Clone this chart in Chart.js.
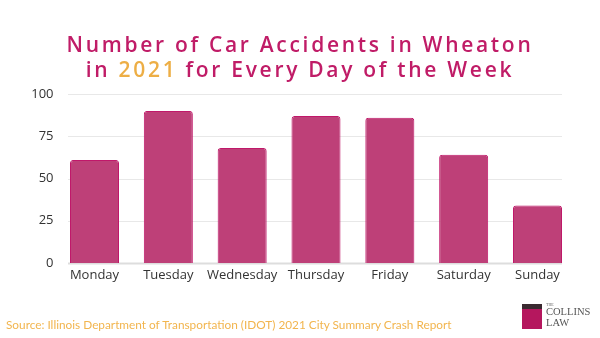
<!DOCTYPE html>
<html>
<head>
<meta charset="utf-8">
<script src="https://cdn.jsdelivr.net/npm/chart.js@4.4.0/dist/chart.umd.min.js"></script>
<style>
  html, body { margin: 0; padding: 0; background: #fff; }
  #wrap { position: relative; width: 600px; height: 338px; overflow: hidden; }
  #chart { position: absolute; left: 0; top: 0; }
  #title {
    position: absolute; left: 0; top: 32px; width: 600px;
    text-align: center; font-family: "Open Sans", sans-serif; font-weight: 600;
    font-size: 21px; line-height: 25px; letter-spacing: 2.7px; color: #C01C67;
  }
  #title .yr { color: #EDAE45; }
  #source {
    position: absolute; left: 6px; top: 317px;
    font-family: "Lato", sans-serif; font-size: 11.8px; color: #F2B54E;
  }
  #logo { position: absolute; left: 522px; top: 304px; width: 72px; height: 26px; }
  #logo .mark { position: absolute; left: 0; top: 0; width: 20px; height: 25px;
    background: linear-gradient(#3a2a30 0 20%, #B5175E 20% 100%); }
  #logo .t1 { position: absolute; left: 24px; top: -2px; font: 4px "Liberation Serif", serif; color: #666; }
  #logo .t2 { position: absolute; left: 24px; top: 2px; font: 10.5px "Liberation Serif", serif; color: #555; }
  #logo .t3 { position: absolute; left: 24px; top: 13px; font: 10.5px "Liberation Serif", serif; color: #555; }
</style>
</head>
<body>
<div id="wrap">
  <canvas id="chart" width="600" height="338"></canvas>
  <div id="title">Number of Car Accidents in Wheaton<br>in <span class="yr">2021</span> for Every Day of the Week</div>
  <div id="source">Source: Illinois Department of Transportation (IDOT) 2021 City Summary Crash Report</div>
  <div id="logo"><div class="mark"></div><div class="t1">THE</div><div class="t2">COLLINS</div><div class="t3">LAW</div></div>
</div>
<script>
  // Data
  const days = ["Monday", "Tuesday", "Wednesday", "Thursday", "Friday", "Saturday", "Sunday"];
  const accidents = [61, 90, 68, 87, 86, 64, 34];
  const yTicks = [0, 25, 50, 75, 100];

  const barColor = "#BE4078";
  const barEdge = "#C0186A";

  // gridlines run past the first/last bar centre, out to the bar edges
  const wideGrid = {
    id: "wideGrid",
    beforeDatasetsDraw: function(chart) {
      const ctx = chart.ctx;
      const y = chart.scales.y;
      const left = 68, right = 562;
      ctx.save();
      yTicks.forEach(function(v) {
        const py = Math.round(y.getPixelForValue(v)) + 0.5;
        ctx.beginPath();
        if (v === 0) {
          ctx.strokeStyle = "#dddddd";
          ctx.lineWidth = 2;
        } else {
          ctx.strokeStyle = "#e8e8e8";
          ctx.lineWidth = 1;
        }
        ctx.moveTo(left, py);
        ctx.lineTo(right, py);
        ctx.stroke();
      });
      ctx.restore();
    }
  };

  new Chart(document.getElementById("chart"), {
    type: "bar",
    data: {
      labels: days,
      datasets: [{
        data: accidents,
        backgroundColor: barColor,
        borderColor: barEdge,
        borderWidth: 1,
        borderRadius: 3,
        borderSkipped: "bottom",
        barPercentage: 0.664,
        categoryPercentage: 1,
        clip: false
      }]
    },
    plugins: [wideGrid],
    options: {
      responsive: false,
      animation: false,
      layout: { padding: { top: 94, right: 62.5, bottom: 51, left: 0 } },
      plugins: { legend: { display: false }, tooltip: { enabled: false } },
      scales: {
        x: {
          offset: false,
          grid: { display: false, drawTicks: false },
          border: { display: false },
          ticks: { color: "#333", font: { family: "Open Sans", size: 13 }, padding: 4, maxRotation: 0, autoSkip: false },
          afterFit: function(scale) { scale.height = 24; }
        },
        y: {
          min: 0, max: 100,
          afterBuildTicks: function(scale) { scale.ticks = yTicks.map(v => ({ value: v })); },
          grid: { display: false },
          border: { display: false },
          ticks: { color: "#333", font: { family: "Open Sans", size: 13 }, padding: 33 },
          afterFit: function(scale) { scale.width = 94.5; }
        }
      }
    }
  });
</script>
</body>
</html>
